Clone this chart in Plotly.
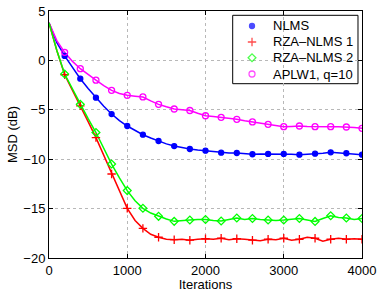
import plotly.graph_objects as go

iterations = list(range(0, 4001, 100))

nlms = [3.8, 1.8, 0.45, -0.7, -1.85, -2.85, -3.77, -4.65, -5.43, -6.1, -6.64,
        -7.1, -7.52, -7.85, -8.16, -8.45, -8.67, -8.85, -8.97, -9.07, -9.14,
        -9.25, -9.34, -9.36, -9.37, -9.45, -9.5, -9.48, -9.47, -9.45, -9.47,
        -9.5, -9.54, -9.5, -9.44, -9.4, -9.3, -9.35, -9.4, -9.5, -9.54]

rza1 = [3.8, 1.0, -1.45, -3.0, -4.6, -6.2, -7.82, -9.6, -11.5, -13.3, -14.97,
        -16.2, -17.0, -17.6, -17.9,
        -18.1, -18.15, -18.1, -18.2, -18.1, -18.05, -18.1, -18.0, -18.15, -18.05,
        -18.1, -18.2, -18.25, -18.1, -18.15, -18.0, -18.2, -18.1, -17.9, -18.0,
        -18.3, -18.1, -18.0, -18.1, -18.05, -18.1]

rza2 = [3.8, 1.0, -1.38, -2.9, -4.45, -5.9, -7.3, -8.9, -10.49, -11.9, -13.18,
        -14.2, -14.97, -15.45, -15.78, -16.05, -16.29, -16.2, -16.15,
        -16.1, -16.1, -16.2, -16.25, -16.1, -15.95, -16.1, -16.0, -16.1, -16.15,
        -16.2, -16.15, -16.1, -16.0, -16.15, -16.3, -16.0, -15.72, -15.9, -15.95,
        -16.1, -16.0]

aplw1 = [3.8, 2.0, 0.82, -0.1, -0.84, -1.45, -2.0, -2.55, -3.03, -3.35, -3.53,
         -3.62, -3.7, -4.1, -4.45, -4.7, -4.92, -5.0, -5.07, -5.35, -5.6,
         -5.68, -5.76, -5.85, -5.96, -6.1, -6.23, -6.35, -6.47, -6.6, -6.71,
         -6.68, -6.64, -6.68, -6.71, -6.7, -6.71, -6.72, -6.74, -6.8, -6.87]

names = ["NLMS", "RZA\u2013NLMS 1", "RZA\u2013NLMS 2", "APLW1, q=10"]
series = [nlms, rza1, rza2, aplw1]
colors = ["#0000ff", "#ff0000", "#00ff00", "#ff00ff"]
symbols = ["circle", "cross-thin-open", "diamond-open", "circle-open"]
sizes = [5, 6, 6, 6]
legend_sizes = [5, 6, 6, 6]

font = "Liberation Sans, Arial, Helvetica, sans-serif"
fig = go.Figure()

order = [0, 3, 1, 2]
for i in order:
    fig.add_trace(go.Scatter(x=iterations, y=series[i], mode="lines",
                             line=dict(color=colors[i], width=1.5),
                             showlegend=False, hoverinfo="skip"))

for i in range(4):
    mx = iterations[2::2]
    my = series[i][2::2]
    fig.add_trace(go.Scatter(x=mx, y=my, mode="markers", name=names[i],
                             showlegend=False,
                             marker=dict(symbol=symbols[i], color=colors[i],
                                         size=sizes[i],
                                         line=dict(color=colors[i], width=1.3))))

# custom legend (compact, MATLAB-like), placed in paper-fraction overlay axes
leg_rows = [0.9393, 0.8745, 0.8109, 0.7449]
leg_mark_x = 0.6486
leg_text_x = 0.7093
fig.add_trace(go.Scatter(x=[leg_mark_x] * 4, y=leg_rows, mode="markers",
                         xaxis="x2", yaxis="y2", showlegend=False, hoverinfo="skip",
                         marker=dict(symbol=symbols, color=colors, size=legend_sizes,
                                     line=dict(color=colors, width=1.3))))
for i in range(4):
    fig.add_annotation(x=leg_text_x, y=leg_rows[i], xref="paper", yref="paper",
                       text=names[i], showarrow=False, xanchor="left", yanchor="middle",
                       font=dict(family=font, size=13, color="black"))
fig.add_shape(type="rect", xref="paper", yref="paper",
              x0=0.5869, x1=0.9872, y0=0.7057, y1=0.9826,
              line=dict(color="black", width=1), fillcolor="white", layer="between")

axis_common = dict(showline=True, linecolor="black", linewidth=1, mirror="ticks",
                   ticks="inside", ticklen=4, tickcolor="black", automargin=False,
                   showgrid=True, gridcolor="#b8b8b8", griddash="dot", gridwidth=1,
                   zeroline=False, tickfont=dict(family=font, size=13, color="black"))

fig.update_xaxes(range=[0, 4000], tickvals=[0, 1000, 2000, 3000, 4000],
                 title=dict(text="Iterations", font=dict(family=font, size=13, color="black"),
                            standoff=0),
                 **axis_common)
fig.update_yaxes(range=[-20, 5], tickvals=[-20, -15, -10, -5, 0, 5],
                 title=dict(text="MSD (dB)", font=dict(family=font, size=13, color="black"),
                            standoff=2),
                 **axis_common)

fig.update_layout(width=382, height=292,
                  margin=dict(l=49, r=20, t=11, b=34),
                  plot_bgcolor="white", paper_bgcolor="white",
                  font=dict(family=font, size=13, color="black"),
                  showlegend=False,
                  xaxis2=dict(overlaying="x", range=[0, 1], visible=False, fixedrange=True),
                  yaxis2=dict(overlaying="y", range=[0, 1], visible=False, fixedrange=True))

fig.write_html("out.html", post_script="document.body.style.margin='0';",
               config={"displayModeBar": False})
